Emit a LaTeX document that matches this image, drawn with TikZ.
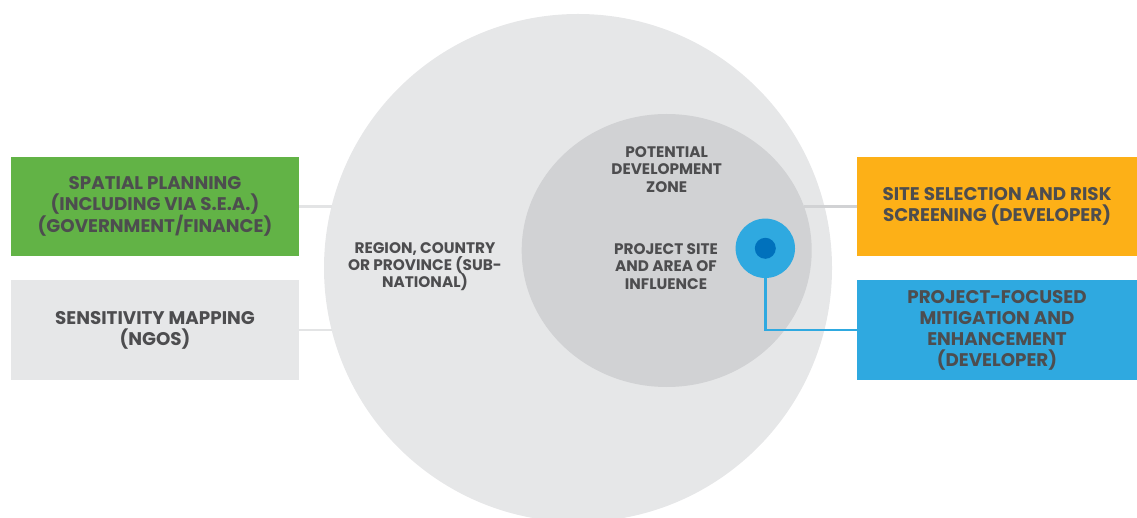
\documentclass[tikz,border=0pt]{standalone}
\usepackage{fontspec}
\setmainfont{Poppins}
\usetikzlibrary{shapes.geometric}
\definecolor{txt}{HTML}{4D4D4F}
\definecolor{outerc}{HTML}{E6E7E8}
\definecolor{innerc}{HTML}{D1D2D4}
\definecolor{greenb}{HTML}{62B346}
\definecolor{orangeb}{HTML}{FDB017}
\definecolor{blueb}{HTML}{2FA9E0}
\definecolor{dotc}{HTML}{0071BC}
\definecolor{linel}{HTML}{E3E4E5}
\definecolor{lined}{HTML}{D1D2D4}
\tikzset{
  box/.style={rectangle, minimum height=99pt, inner sep=0pt, align=center,
    text=txt, font=\fontsize{18.3}{21}\selectfont\bfseries},
  lbl/.style={align=center, text=txt, inner sep=0pt, font=\fontsize{15.3}{17.3}\selectfont\bfseries},
  conn/.style={line width=2.5pt},
}
\begin{document}
\begin{tikzpicture}[x=1pt,y=-1pt]
\useasboundingbox (0,0) rectangle (1137,518);
\begin{scope}
\clip (0,0) rectangle (1137,518);
\node[circle, fill=outerc, minimum size=508pt, inner sep=0pt] (region) at (578,268) {};
\node[ellipse, fill=innerc, minimum width=290pt, minimum height=273pt, inner sep=0pt] (zone) at (666.7,250.5) {};
\end{scope}
% boxes
\node[box, fill=greenb, minimum width=288pt] (spatial) at (155,206.5) {SPATIAL PLANNING\\(INCLUDING VIA S.E.A.)\\(GOVERNMENT/FINANCE)};
\node[box, fill=outerc, minimum width=288pt] (sens) at (155,330) {SENSITIVITY MAPPING\\(NGOS)};
\node[box, fill=orangeb, minimum width=280pt] (site) at (997,206.5) {SITE SELECTION AND RISK\\SCREENING (DEVELOPER)};
\node[box, fill=blueb, minimum width=280pt] (mitig) at (997,330) {PROJECT-FOCUSED\\MITIGATION AND\\ENHANCEMENT\\(DEVELOPER)};
% labels
\node[lbl] (regionlbl) at (425,266.5) {REGION, COUNTRY\\OR PROVINCE (SUB-\\NATIONAL)};
\node[lbl] (zonelbl) at (666.7,169.5) {POTENTIAL\\DEVELOPMENT\\ZONE};
\node[lbl] (sitelbl) at (666,266.5) {PROJECT SITE\\AND AREA OF\\INFLUENCE};
% connectors
\coordinate (regL1) at (331.6,206.5);
\coordinate (regL2) at (331.7,330);
\coordinate (zoneR) at (804,206.5);
\draw[conn, draw=linel] (spatial.east) -- (regL1);
\draw[conn, draw=linel] (sens.east) -- (regL2);
\draw[conn, draw=lined] (zoneR) -- (site.west);
% project dot
\node[circle, fill=blueb, minimum size=59.4pt, inner sep=0pt] (dot) at (765.3,248.3) {};
\node[circle, fill=dotc, minimum size=21pt, inner sep=0pt] (dotin) at (dot.center) {};
\draw[conn, draw=blueb] (dot.south) |- (mitig.west);
\end{tikzpicture}
\end{document}
